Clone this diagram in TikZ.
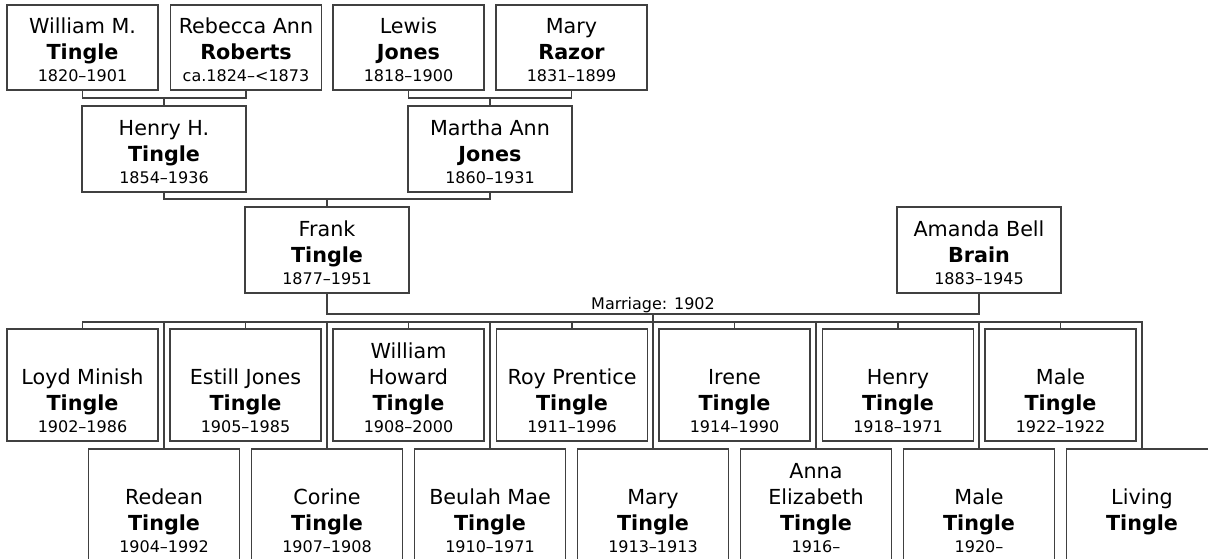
\documentclass[tikz,border=0pt]{standalone}
\usepackage{fontspec}
\setmainfont{DejaVu Sans}
\definecolor{ln}{RGB}{64,64,64}
\newcommand{\sur}[1]{{\bfseries #1}}
\newcommand{\yrs}[1]{{\fontsize{16}{16}\selectfont #1}}
\newcommand{\tp}{\rule{0pt}{20.5pt}}
\newcommand{\ph}{\tp}
\tikzset{
  pbox/.style={draw=ln, line width=1.4pt, fill=white, inner sep=0pt, align=center,
    font=\fontsize{20.7}{26}\selectfont, text=black},
  topbox/.style={pbox, minimum width=151pt, minimum height=85pt},
  midbox/.style={pbox, minimum width=164pt, minimum height=86pt},
  kidbox/.style={pbox, minimum width=151pt, minimum height=112pt},
  conn/.style={draw=ln, line width=1.4pt},
}
\begin{document}
\begin{tikzpicture}[x=1pt,y=-1pt]
\clip (0,0) rectangle (1208,559);
% generation 1
\node[topbox] (wm) at (82.5,47.5) {\tp William M.\\ \sur{Tingle}\\[-4pt] \yrs{1820–1901}};
\node[topbox] (rr) at (246,47.5) {\tp Rebecca Ann\\ \sur{Roberts}\\[-4pt] \yrs{ca.1824–<1873}};
\node[topbox] (lj) at (408.5,47.5) {\tp Lewis\\ \sur{Jones}\\[-4pt] \yrs{1818–1900}};
\node[topbox] (mr) at (571.5,47.5) {\tp Mary\\ \sur{Razor}\\[-4pt] \yrs{1831–1899}};
% generation 2
\node[midbox] (hh) at (164,149) {\tp Henry H.\\ \sur{Tingle}\\[-4pt] \yrs{1854–1936}};
\node[midbox] (ma) at (490,149) {\tp Martha Ann\\ \sur{Jones}\\[-4pt] \yrs{1860–1931}};
% generation 3
\node[midbox] (fr) at (327,250) {\tp Frank\\ \sur{Tingle}\\[-4pt] \yrs{1877–1951}};
\node[midbox] (ab) at (979,250) {\tp Amanda Bell\\ \sur{Brain}\\[-4pt] \yrs{1883–1945}};
% children row 1
\node[kidbox] (k1) at (82.5,385) {\ph\\ Loyd Minish\\ \sur{Tingle}\\[-4pt] \yrs{1902–1986}};
\node[kidbox] (k3) at (245.5,385) {\ph\\ Estill Jones\\ \sur{Tingle}\\[-4pt] \yrs{1905–1985}};
\node[kidbox] (k5) at (408.5,385) {\tp William\\ Howard\\ \sur{Tingle}\\[-4pt] \yrs{1908–2000}};
\node[kidbox] (k7) at (572,385) {\ph\\ Roy Prentice\\ \sur{Tingle}\\[-4pt] \yrs{1911–1996}};
\node[kidbox] (k9) at (734.5,385) {\ph\\ Irene\\ \sur{Tingle}\\[-4pt] \yrs{1914–1990}};
\node[kidbox] (k11) at (898,385) {\ph\\ Henry\\ \sur{Tingle}\\[-4pt] \yrs{1918–1971}};
\node[kidbox] (k13) at (1060.5,385) {\ph\\ Male\\ \sur{Tingle}\\[-4pt] \yrs{1922–1922}};
% children row 2
\node[kidbox] (k2) at (164,505) {\ph\\ Redean\\ \sur{Tingle}\\[-4pt] \yrs{1904–1992}};
\node[kidbox] (k4) at (327,505) {\ph\\ Corine\\ \sur{Tingle}\\[-4pt] \yrs{1907–1908}};
\node[kidbox] (k6) at (490,505) {\ph\\ Beulah Mae\\ \sur{Tingle}\\[-4pt] \yrs{1910–1971}};
\node[kidbox] (k8) at (653,505) {\ph\\ Mary\\ \sur{Tingle}\\[-4pt] \yrs{1913–1913}};
\node[kidbox] (k10) at (816,505) {\tp Anna\\ Elizabeth\\ \sur{Tingle}\\[-4pt] \yrs{1916–}};
\node[kidbox] (k12) at (979,505) {\ph\\ Male\\ \sur{Tingle}\\[-4pt] \yrs{1920–}};
\node[kidbox] (k14) at (1142,505) {\ph\\ Living\\ \sur{Tingle}\\[-4pt] \yrs{\vphantom{1}}};
% junction points
\coordinate (u1) at (164,98);
\coordinate (u2) at (490,98);
\coordinate (u3) at (327,199);
\coordinate (fam) at (653,314);
\coordinate (kids) at (653,322);
% connectors
\draw[conn] (wm.south) |- (u1) -| (rr.south);
\draw[conn] (u1) -- (hh.north);
\draw[conn] (lj.south) |- (u2) -| (mr.south);
\draw[conn] (u2) -- (ma.north);
\draw[conn] (hh.south) |- (u3) -| (ma.south);
\draw[conn] (u3) -- (fr.north);
\draw[conn] (fr.south) |- (fam) -| (ab.south);
\draw[conn] (fam) -- (kids);
\foreach \k in {k1,k2,k3,k4,k5,k6,k7,k8,k9,k10,k11,k12,k13,k14}
  \draw[conn] (kids) -| (\k.north);
\node[font=\fontsize{16}{16}\selectfont, anchor=base] (mlab) at (653,309) {Marriage: 1902};
\end{tikzpicture}
\end{document}
